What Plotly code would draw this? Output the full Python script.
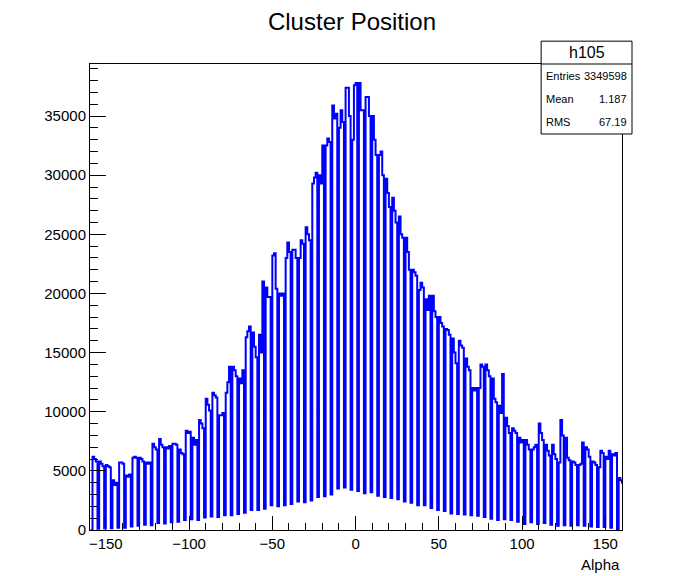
import numpy as np
import plotly.graph_objects as go

# ── Data ──────────────────────────────────────────────────────────────────────
alpha_min = -159.0
bin_width = 1.0

# counts per bin, four bins per row (one depleted bin followed by three full ones)
counts_rows = [
    [0, 6200, 6000, 5800], [100, 5800, 5600, 5400], [150, 5500, 5400, 5300],
    [150, 4200, 3800, 4000], [200, 5700, 5700, 5600], [200, 4600, 4500, 4700],
    [300, 6100, 6200, 6100], [350, 6100, 6000, 5800], [450, 5700, 5600, 5700],
    [400, 7300, 7000, 6800], [600, 7700, 7200, 7000], [550, 7000, 6900, 7100],
    [650, 7300, 7300, 7200], [700, 6800, 6500, 6400], [850, 8400, 8200, 8300],
    [900, 7800, 7200, 7600], [850, 9300, 9000, 8600], [1050, 11100, 10600, 10100],
    [1150, 11600, 11400, 11200], [1100, 9700, 9700, 9900], [1250, 11600, 12500, 13800],
    [1250, 13800, 13500, 13000], [1350, 12800, 12400, 13500], [1450, 16300, 16800, 17200],
    [1700, 16700, 15500, 14600], [1700, 16500, 15000, 21000], [1800, 20500, 19700, 19700],
    [2100, 23200, 23400, 20400], [2000, 20000, 19800, 20000], [2100, 23000, 24300, 23500],
    [2200, 23700, 23700, 23000], [2400, 23000, 24500, 24200], [2350, 25600, 25000, 24500],
    [2500, 29300, 29800, 30200], [2800, 30000, 29300, 32500], [2850, 32500, 33100, 32800],
    [3000, 35900, 34800, 35200], [3500, 34000, 35500, 34500], [3600, 37400, 37400, 35000],
    [3400, 33000, 37600, 37800], [3300, 37800, 35500, 35500], [3100, 36600, 36600, 35000],
    [3200, 35000, 33000, 31700], [2900, 31700, 32000, 30000], [2800, 29700, 28500, 27300],
    [2700, 28100, 27000, 26000], [2600, 26500, 25000, 24700], [2400, 24700, 23500, 22000],
    [2300, 22000, 21800, 21500], [2100, 20300, 20900, 20500], [2100, 19500, 18600, 19800],
    [1850, 19800, 18500, 18000], [1700, 18000, 17500, 17200], [1600, 17000, 16900, 16500],
    [1400, 16200, 15000, 14100], [1350, 16000, 15600, 15400], [1300, 14500, 13800, 13500],
    [1250, 12000, 11800, 12000], [1200, 12000, 14000, 13800], [1100, 14000, 13500, 13000],
    [950, 12800, 11100, 10800], [850, 10500, 9900, 13200], [900, 9500, 8800, 8200],
    [850, 8600, 8400, 8200], [700, 7800, 7400, 7600], [500, 7600, 7200, 6800],
    [650, 6800, 7000, 7200], [500, 9000, 8200, 7600], [600, 7200, 6700, 6300],
    [450, 7200, 6400, 6000], [350, 5700, 9300, 8000], [400, 7800, 6100, 5900],
    [350, 5800, 5700, 5500], [400, 5500, 5600, 7400], [350, 7000, 6800, 6200],
    [300, 5800, 5700, 5500], [250, 5300, 6700, 6500], [250, 6200, 6000, 6700],
    [200, 6400, 6300, 6500], [0, 4400, 4200, 4000],
]

stats_name = "h105"
stats_labels = ["Entries", "Mean", "RMS"]
stats_values = ["3349598", "1.187", "67.19"]

# ── Build the step outline ───────────────────────────────────────────────────
counts = [c for row in counts_rows for c in row]
edges = alpha_min + bin_width * np.arange(len(counts) + 1)
xs = [edges[0]] + list(edges[:-1]) + [edges[-1], edges[-1]]
ys = [0] + counts + [counts[-1], 0]

FONT = "Liberation Sans, Arial, Helvetica, sans-serif"
W, H = 665, 568   # page body adds an 8 px offset

fig = go.Figure()
fig.add_trace(go.Scatter(
    x=xs, y=ys, mode="lines", line_shape="hv",
    line=dict(color="#0000ff", width=2),
    showlegend=False, hoverinfo="skip",
))

fig.update_layout(
    width=W, height=H,
    margin=dict(l=82, r=51, t=56, b=46, autoexpand=False),
    paper_bgcolor="white", plot_bgcolor="white",
    font=dict(family=FONT, size=15, color="black"),
    title=dict(text="Cluster Position", x=344 / W, xref="container",
               y=1 - 14 / H, yref="container", xanchor="center", yanchor="middle",
               font=dict(size=24)),
)
fig.update_xaxes(
    range=[-159.5, 160], dtick=50, tick0=0,
    ticks="inside", ticklen=14, tickcolor="black", tickwidth=1,
    minor=dict(dtick=10, ticks="inside", ticklen=7, tickcolor="black"),
    showgrid=False, zeroline=False,
    showline=True, linecolor="black", linewidth=1, mirror=True,
    tickfont=dict(size=15),
)
fig.update_yaxes(
    range=[0, 39400], dtick=5000, tick0=0, tickformat="d",
    ticks="inside", ticklen=16, tickcolor="black", tickwidth=1,
    minor=dict(dtick=1000, ticks="inside", ticklen=8, tickcolor="black"),
    showgrid=False, zeroline=False,
    showline=True, linecolor="black", linewidth=1, mirror=True,
    tickfont=dict(size=15),
)

# x axis title at bottom right (ROOT style)
fig.add_annotation(text="Alpha", xref="paper", yref="paper", x=1.0, y=-0.075,
                   xanchor="right", yanchor="middle", showarrow=False,
                   font=dict(size=15))

# ── Stats box ────────────────────────────────────────────────────────────────
bx0, bx1 = 0.848, 1.0188
by0, by1, bymid = 0.8498, 1.049, 1.0
fig.add_shape(type="rect", xref="paper", yref="paper", x0=bx0, x1=bx1, y0=by0, y1=by1,
              line=dict(color="black", width=1), fillcolor="white", layer="above")
fig.add_shape(type="line", xref="paper", yref="paper", x0=bx0, x1=bx1, y0=bymid, y1=bymid,
              line=dict(color="black", width=1), layer="above")
fig.add_annotation(text=stats_name, xref="paper", yref="paper", x=(bx0 + bx1) / 2,
                   y=(bymid + by1) / 2, xanchor="center", yanchor="middle",
                   showarrow=False, font=dict(size=16))
row_h = (bymid - by0) / len(stats_labels)
for i, (lab, val) in enumerate(zip(stats_labels, stats_values)):
    yc = bymid - row_h * (i + 0.5)
    fig.add_annotation(text=lab, xref="paper", yref="paper", x=bx0 + 0.006, y=yc,
                       xanchor="left", yanchor="middle", showarrow=False,
                       font=dict(size=11))
    fig.add_annotation(text=val, xref="paper", yref="paper", x=bx1 - 0.006, y=yc,
                       xanchor="right", yanchor="middle", showarrow=False,
                       font=dict(size=11))

fig.write_html("out.html")
